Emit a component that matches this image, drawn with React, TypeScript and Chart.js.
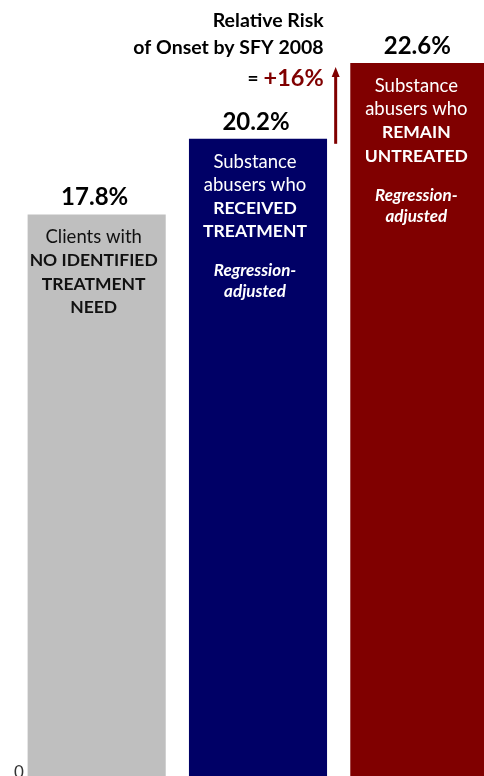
import React, { useEffect, useRef } from "react";
import { Chart, registerables } from "chart.js";

Chart.register(...registerables);

const categories = ["No identified treatment need", "Received treatment", "Remain untreated"];
const values = [17.8, 20.2, 22.6];
const valueLabels = ["17.8%", "20.2%", "22.6%"];
const barColors = ["#bfbfbf", "#000066", "#800000"];
const barTextColors = ["#111111", "#ffffff", "#ffffff"];
const barMainLines = [
  ["Clients with", "NO IDENTIFIED", "TREATMENT", "NEED"],
  ["Substance", "abusers who", "RECEIVED", "TREATMENT"],
  ["Substance", "abusers who", "REMAIN", "UNTREATED"],
];
const barBoldFrom = [1, 2, 2];
const barNoteLines = [[], ["Regression-", "adjusted"], ["Regression-", "adjusted"]];
const titleLines = ["Relative Risk", "of Onset by SFY 2008"];
const riskPrefix = "=";
const riskValue = "+16%";
const yTickLabel = "0";

const FONT = "Lato, 'Open Sans', sans-serif";

const annotations = {
  id: "annotations",
  afterDatasetsDraw(chart: any) {
    const ctx = chart.ctx;
    const meta = chart.getDatasetMeta(0);
    const yScale = chart.scales.y;
    ctx.save();
    ctx.textAlign = "center";
    ctx.textBaseline = "middle";
    meta.data.forEach((bar: any, i: number) => {
      const cx = bar.x - 3;
      const top = bar.y;
      // value label
      ctx.fillStyle = "#000000";
      ctx.font = `bold 24px ${FONT}`;
      ctx.fillText(valueLabels[i], cx + 1, top - 17);
      // bar text
      ctx.fillStyle = barTextColors[i];
      let y = top + 23;
      barMainLines[i].forEach((line, j) => {
        const bold = j >= barBoldFrom[i];
        ctx.font = `${bold ? "bold 17.5px" : "18.5px"} ${FONT}`;
        ctx.fillText(line, cx, y);
        y += 23.3;
      });
      y += 16;
      barNoteLines[i].forEach((line) => {
        ctx.font = `italic bold 17px ${FONT}`;
        ctx.fillText(line, cx, y);
        y += 21;
      });
    });
    // arrow between bar 2 and bar 3
    const b2 = meta.data[1];
    const b3 = meta.data[2];
    const ax = (b2.x + b2.width / 2 + b3.x - b3.width / 2) / 2 - 3;
    const yBottom = b2.y + 5;
    const yTip = b3.y + 4;
    ctx.strokeStyle = "#800000";
    ctx.fillStyle = "#800000";
    ctx.lineWidth = 3;
    ctx.beginPath();
    ctx.moveTo(ax, yBottom);
    ctx.lineTo(ax, yTip + 8);
    ctx.stroke();
    ctx.beginPath();
    ctx.moveTo(ax, yTip);
    ctx.lineTo(ax - 4, yTip + 10);
    ctx.lineTo(ax + 4, yTip + 10);
    ctx.closePath();
    ctx.fill();
    // title
    const rx = ax - 12;
    ctx.textAlign = "right";
    ctx.fillStyle = "#000000";
    ctx.font = `bold 19.5px ${FONT}`;
    ctx.fillText(titleLines[0], rx, 21);
    ctx.fillText(titleLines[1], rx, 48);
    ctx.font = `bold 23.5px ${FONT}`;
    ctx.fillStyle = "#800000";
    ctx.fillText(riskValue, rx, 78);
    const w = ctx.measureText(riskValue).width;
    ctx.font = `bold 19px ${FONT}`;
    ctx.fillStyle = "#000000";
    ctx.fillText(riskPrefix, rx - w - 5, 79);
    // zero tick
    ctx.textAlign = "center";
    ctx.textBaseline = "alphabetic";
    ctx.fillStyle = "#333333";
    ctx.font = `17px ${FONT}`;
    ctx.fillText(yTickLabel, 19, yScale.getPixelForValue(0) + 2);
    ctx.restore();
  },
};

export default function App() {
  const ref = useRef<HTMLCanvasElement>(null);
  useEffect(() => {
    if (!ref.current) return;
    const chart = new Chart(ref.current, {
      type: "bar",
      data: {
        labels: categories,
        datasets: [
          {
            data: values,
            backgroundColor: barColors,
            borderWidth: 0,
            categoryPercentage: 1,
            barPercentage: 0.856,
          },
        ],
      },
      options: {
        responsive: false,
        animation: false,
        devicePixelRatio: 1,
        layout: { padding: { left: 16, right: 0, top: 0, bottom: 0 } },
        plugins: { legend: { display: false }, tooltip: { enabled: false }, title: { display: false } },
        scales: {
          x: { display: false, offset: true },
          y: { display: false, min: 0, max: 24.6 },
        },
      },
      plugins: [annotations],
    });
    return () => chart.destroy();
  }, []);
  return (
    <div style={{ position: "fixed", left: 0, top: 0, width: 484, height: 776, overflow: "hidden", background: "#ffffff" }}>
      <canvas ref={ref} width={500} height={776} style={{ width: 500, height: 776, display: "block" }} />
    </div>
  );
}
